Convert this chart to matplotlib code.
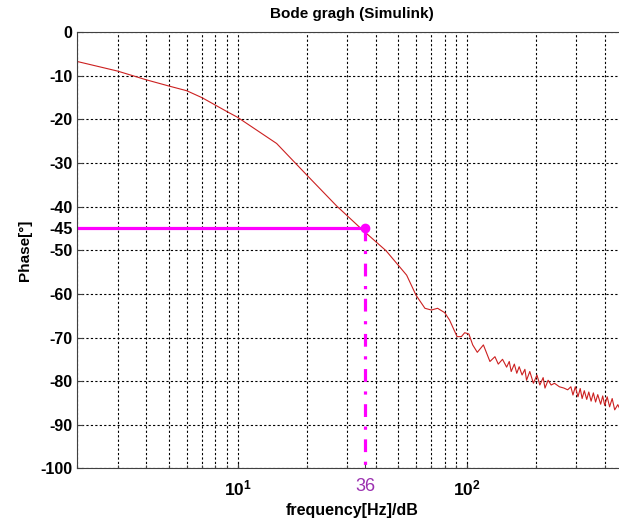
import matplotlib
matplotlib.use('Agg')
import matplotlib.pyplot as plt
from matplotlib.ticker import FixedLocator, NullFormatter
import numpy as np

plt.rcParams['font.family'] = ['Liberation Sans', 'DejaVu Sans']
plt.rcParams['mathtext.fontset'] = 'custom'
plt.rcParams['mathtext.rm'] = 'Liberation Sans:bold'
plt.rcParams['mathtext.it'] = 'Liberation Sans:bold'
plt.rcParams['axes.unicode_minus'] = False

# phase response
freq = [2, 3, 4, 5, 6, 7, 8, 9, 10, 14.8, 20, 27, 35, 44.4, 54.6, 60, 65.6, 70, 74.5, 80, 84,
        90.6, 94.6, 97.8, 102, 106, 111, 118, 126, 132.5, 137, 143, 149, 153, 156, 161, 165,
        169, 174, 179, 182, 188, 195, 202, 208, 215, 219, 226, 233, 241, 253, 265, 275, 284,
        290, 297, 305, 312, 318, 325, 333, 340, 348, 356, 364, 372, 383, 391, 399, 409, 419,
        430, 441, 455, 470]
phase = [-6.7, -8.9, -10.9, -12.3, -13.4, -15.0, -16.7, -18.2, -19.5, -25.5, -32.7, -39.8,
         -45.3, -50.1, -55.7, -60.3, -63.3, -63.7, -63.3, -64.3, -66.0, -69.8, -69.8, -68.9,
         -69.2, -71.7, -73.4, -71.7, -75.5, -74.4, -76.1, -75.0, -76.8, -75.5, -77.8, -76.1,
         -78.2, -76.7, -78.6, -77.3, -79.8, -77.8, -80.5, -78.6, -80.9, -79.2, -81.6, -79.8,
         -80.9, -80.5, -81.3, -81.6, -82.0, -81.3, -83.2, -81.3, -83.6, -81.7, -84.0, -82.2,
         -84.2, -82.5, -84.6, -82.7, -84.8, -83.1, -85.3, -83.4, -85.6, -83.6, -85.9, -84.0,
         -86.6, -85.4, -87.0]

f_cut = 36
ph_cut = -45
yticks = [0, -10, -20, -30, -40, -45, -50, -60, -70, -80, -90, -100]
xminor = [2, 3, 4, 5, 6, 7, 8, 9, 10, 20, 30, 40, 50, 60, 70, 80, 90, 100, 200, 300, 400, 500]

fig = plt.figure(figsize=(6.19, 5.24), dpi=100)
ax = fig.add_axes([77.3 / 619, 55.7 / 524, 549.9 / 619, 436.0 / 524])

ax.semilogx(freq, phase, color='#cc2020', lw=0.8)
ax.plot([2, f_cut], [ph_cut, ph_cut], color='#ff00ff', lw=2.3)
ax.plot([f_cut, f_cut], [ph_cut, -100], color='#ff00ff', lw=2.3, ls=(0, (4, 3, 1, 3)))
ax.plot([f_cut], [ph_cut], 'o', color='#ff00ff', ms=6)

ax.set_xlim(2, 500)
ax.set_ylim(-100, 0)

ax.set_xticks([10, f_cut, 100])
ax.set_xticklabels([r'$10^{1}$', '36', r'$10^{2}$'])
ax.xaxis.set_minor_locator(FixedLocator(xminor))
ax.xaxis.set_minor_formatter(NullFormatter())
ax.xaxis.remove_overlapping_locs = False
ax.set_yticks(yticks)

ax.grid(False, which='major')
ax.grid(True, which='minor', axis='x', color='k', ls=(0, (2, 2)), lw=0.8)
for v in yticks:
    if v != ph_cut:
        ax.axhline(v, color='k', ls=(0, (2, 2)), lw=0.8, zorder=0)

ax.tick_params(which='both', direction='in', labelsize=11.5, width=0.8, color='#404040')
ax.tick_params(which='major', length=4)
ax.tick_params(which='minor', length=2)
ax.tick_params(axis='x', which='major', labelsize=12.5, pad=7)
for lbl in ax.get_yticklabels():
    lbl.set_fontweight('bold')
lbl36 = ax.get_xticklabels()[1]
lbl36.set_color('#9b30b0')
lbl36.set_fontweight('normal')
lbl36.set_fontsize(13)
for s in ax.spines.values():
    s.set_color('#404040')

ax.set_title('Bode gragh (Simulink)', fontsize=11, fontweight='bold', pad=10)
ax.set_xlabel('frequency[Hz]/dB', fontsize=11.5, fontweight='bold', labelpad=4)
ax.set_ylabel('Phase[°]', fontsize=11, fontweight='bold', labelpad=6)

fig.savefig('out.png', dpi=100)
